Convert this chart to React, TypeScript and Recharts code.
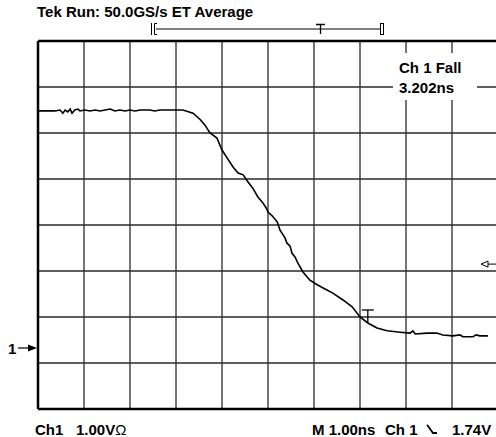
import React from "react";
import {
  LineChart,
  Line,
  XAxis,
  YAxis,
  CartesianGrid,
  ReferenceLine,
  ReferenceDot,
} from "recharts";

// time in divisions (1.00 ns / div), level in divisions from bottom of screen
const timeDiv = [
  0, 0.15, 0.37, 0.48, 0.54, 0.59, 0.65, 0.7, 0.74, 0.8, 0.87, 0.91, 1.02, 1.13,
  1.24, 1.35, 1.46, 1.57, 1.67, 1.78, 1.89, 2.0, 2.11, 2.22, 2.33, 2.43, 2.54,
  2.65, 2.76, 2.87, 2.98, 3.15, 3.37, 3.52, 3.63, 3.74, 3.89, 4.0, 4.11, 4.24,
  4.35, 4.46, 4.57, 4.67, 4.78, 4.89, 4.96, 5.0, 5.09, 5.2, 5.26, 5.3, 5.37,
  5.41, 5.48, 5.52, 5.59, 5.65, 5.76, 5.91, 6.07, 6.24, 6.41, 6.63, 6.83, 7.0,
  7.17, 7.37, 7.59, 7.87, 8.09, 8.15, 8.2, 8.46, 8.67, 8.8, 9.02, 9.17, 9.24,
  9.46, 9.52, 9.61, 9.78,
];
const levelDiv = [
  6.48, 6.48, 6.48, 6.5, 6.43, 6.5, 6.46, 6.52, 6.43, 6.5, 6.52, 6.48, 6.5,
  6.48, 6.5, 6.48, 6.5, 6.52, 6.48, 6.5, 6.48, 6.5, 6.48, 6.5, 6.5, 6.5, 6.48,
  6.5, 6.5, 6.5, 6.5, 6.5, 6.43, 6.3, 6.17, 6.0, 5.89, 5.63, 5.46, 5.26, 5.13,
  5.09, 4.93, 4.8, 4.61, 4.48, 4.37, 4.28, 4.2, 4.07, 3.89, 3.83, 3.72, 3.61,
  3.54, 3.39, 3.3, 3.17, 2.98, 2.8, 2.7, 2.61, 2.52, 2.37, 2.22, 2.0, 1.87,
  1.76, 1.7, 1.67, 1.65, 1.7, 1.63, 1.65, 1.65, 1.61, 1.59, 1.61, 1.57, 1.57,
  1.61, 1.59, 1.59,
];
const xTicks = [0, 1, 2, 3, 4, 5, 6, 7, 8, 9, 10];
const yTicks = [0, 1, 2, 3, 4, 5, 6, 7, 8];

const groundLevel = 1.326;
const triggerLevel = 3.15;
const cursorPoint = { t: 7.17, v: 1.87 };

const data = timeDiv.map((t, i) => ({ t, v: levelDiv[i] }));

const font = "'Liberation Sans', Arial, sans-serif";

const textStyle: React.CSSProperties = {
  position: "absolute",
  fontFamily: font,
  fontWeight: "bold",
  fontSize: 15,
  whiteSpace: "pre",
  lineHeight: "18px",
  color: "#000",
};

export default function App() {
  return (
    <div
      style={{
        position: "absolute",
        left: 0,
        top: 0,
        width: 496,
        height: 437,
        overflow: "hidden",
        background: "#fff",
      }}
    >
      <LineChart
        width={500}
        height={437}
        data={data}
        margin={{ top: 41, right: 2, bottom: 28, left: 38 }}
      >
        <XAxis
          dataKey="t"
          type="number"
          domain={[0, 10]}
          ticks={xTicks}
          interval={0}
          hide
        />
        <YAxis type="number" domain={[0, 8]} ticks={yTicks} interval={0} hide />
        <CartesianGrid stroke="#2a2a2a" strokeWidth={1.3} />
        <ReferenceLine x={0} stroke="#000" strokeWidth={2.5} />
        <ReferenceLine y={0} stroke="#000" strokeWidth={2.5} />
        <ReferenceLine y={8} stroke="#000" strokeWidth={2.5} />
        <Line
          dataKey="v"
          type="linear"
          stroke="#000"
          strokeWidth={1.6}
          dot={false}
          isAnimationActive={false}
        />
        <ReferenceDot
          x={cursorPoint.t}
          y={cursorPoint.v}
          ifOverflow="visible"
          shape={(p: any) => (
            <g stroke="#000" strokeWidth={1.3} fill="none">
              <line x1={p.cx} y1={p.cy} x2={p.cx} y2={p.cy - 13} />
              <line x1={p.cx - 6} y1={p.cy - 13} x2={p.cx + 6} y2={p.cy - 13} />
            </g>
          )}
        />
        <ReferenceDot
          x={10}
          y={triggerLevel}
          ifOverflow="visible"
          shape={(p: any) => (
            <g stroke="#000" strokeWidth={1} fill="#fff">
              <path d={`M${p.cx - 17},${p.cy} L${p.cx - 10},${p.cy - 3} L${p.cx - 10},${p.cy + 3} Z`} />
              <line x1={p.cx - 10} y1={p.cy} x2={p.cx - 2} y2={p.cy} />
            </g>
          )}
        />
        <ReferenceDot
          x={0}
          y={groundLevel}
          ifOverflow="visible"
          shape={(p: any) => (
            <g>
              <text
                x={p.cx - 30}
                y={p.cy + 5.5}
                fontFamily={font}
                fontWeight="bold"
                fontSize={15}
                fill="#000"
              >
                1
              </text>
              <line x1={p.cx - 20} y1={p.cy} x2={p.cx - 8} y2={p.cy} stroke="#000" strokeWidth={1.2} />
              <path d={`M${p.cx - 1},${p.cy} L${p.cx - 10},${p.cy - 3.5} L${p.cx - 10},${p.cy + 3.5} Z`} fill="#000" />
            </g>
          )}
        />
      </LineChart>

      {/* record bar */}
      <svg
        width={496}
        height={40}
        style={{ position: "absolute", left: 0, top: 0 }}
      >
        <g stroke="#000" strokeWidth={1} fill="none">
          <line x1={156} y1={29} x2={380} y2={29} />
          <line x1={151.5} y1={23} x2={151.5} y2={35} />
          <path d="M157,23.5 L154.5,23.5 L154.5,34.5 L157,34.5" />
          <line x1={316} y1={24.5} x2={325} y2={24.5} strokeWidth={1.5} />
          <line x1={320.5} y1={24.5} x2={320.5} y2={34} strokeWidth={1.3} />
          <rect x={380.5} y={23.5} width={3} height={11} />
        </g>
      </svg>

      <div style={{ ...textStyle, left: 37, top: 3 }}>
        Tek Run: 50.0GS/s ET Average
      </div>

      <div
        style={{
          ...textStyle,
          left: 393,
          top: 53,
          width: 84,
          height: 47,
          background: "#fff",
          lineHeight: "20px",
          paddingLeft: 6,
          paddingTop: 5,
          boxSizing: "border-box",
        }}
      >
        {"Ch 1 Fall\n3.202ns"}
      </div>

      <div style={{ ...textStyle, left: 35, top: 421 }}>Ch1</div>
      <div style={{ ...textStyle, left: 76, top: 421 }}>
        {"1.00V"}
        <span style={{ fontWeight: "normal" }}>Ω</span>
      </div>
      <div style={{ ...textStyle, left: 312, top: 421 }}>M 1.00ns</div>
      <div style={{ ...textStyle, left: 385, top: 421 }}>Ch 1</div>
      <svg
        width={14}
        height={14}
        style={{ position: "absolute", left: 425, top: 423 }}
      >
        <path d="M2,2 L3,3 L8,10 L12,10" stroke="#000" strokeWidth={1.8} fill="none" />
      </svg>
      <div style={{ ...textStyle, left: 452, top: 421 }}>1.74V</div>
    </div>
  );
}
